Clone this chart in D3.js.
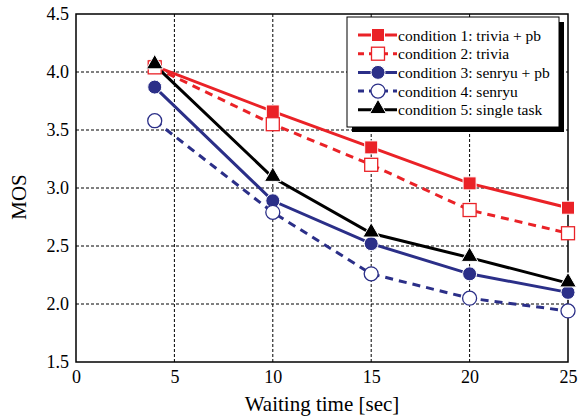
<!DOCTYPE html>
<html>
<head>
<meta charset="utf-8">
<script src="https://d3js.org/d3.v7.min.js"></script>
<style>
  body { margin: 0; background: #fff; }
  text { font-family: "Liberation Serif", "Times New Roman", serif; }
</style>
</head>
<body>
<svg width="584" height="420"></svg>
<script>
// data
var waitTimes = [4, 10, 15, 20, 25];
var cond1 = [4.05, 3.66, 3.35, 3.04, 2.83];
var cond2 = [4.04, 3.55, 3.20, 2.81, 2.61];
var cond3 = [3.87, 2.89, 2.52, 2.26, 2.10];
var cond4 = [3.58, 2.79, 2.26, 2.05, 1.94];
var cond5 = [4.06, 3.09, 2.61, 2.40, 2.18];
var labels = ["condition 1: trivia + pb", "condition 2: trivia", "condition 3: senryu + pb",
  "condition 4: senryu", "condition 5: single task"];
var xTicks = [0, 5, 10, 15, 20, 25];
var yTicks = [1.5, 2.0, 2.5, 3.0, 3.5, 4.0, 4.5];

var red = "#ea2227", blue = "#2b2f88";

var series = [
  { name: labels[0], values: cond1, color: red, dash: null, shape: "square", filled: true },
  { name: labels[1], values: cond2, color: red, dash: "8,6", shape: "square", filled: false },
  { name: labels[2], values: cond3, color: blue, dash: null, shape: "circle", filled: true },
  { name: labels[3], values: cond4, color: blue, dash: "8,6", shape: "circle", filled: false },
  { name: labels[4], values: cond5, color: "#000", dash: null, shape: "triangle", filled: true }
];

var margin = { top: 14, right: 16, bottom: 58, left: 76 },
  width = 584 - margin.left - margin.right,
  height = 420 - margin.top - margin.bottom;

var svg = d3.select("svg")
  .append("g")
  .attr("transform", "translate(" + margin.left + "," + margin.top + ")");

var x = d3.scaleLinear().domain([0, 25]).range([0, width]);
var y = d3.scaleLinear().domain([1.5, 4.5]).range([height, 0]);

// grid
svg.selectAll(".vgrid").data(xTicks.slice(1, -1)).enter()
  .append("line")
  .attr("x1", d => x(d)).attr("x2", d => x(d))
  .attr("y1", 0).attr("y2", height)
  .attr("stroke", "#000").attr("stroke-width", 1)
  .attr("stroke-dasharray", "3,2");
svg.selectAll(".hgrid").data(yTicks.slice(1, -1)).enter()
  .append("line")
  .attr("x1", 0).attr("x2", width)
  .attr("y1", d => y(d)).attr("y2", d => y(d))
  .attr("stroke", "#000").attr("stroke-width", 1)
  .attr("stroke-dasharray", "3,2");

// axes
svg.append("g")
  .attr("transform", "translate(0," + height + ")")
  .call(d3.axisBottom(x).tickValues(xTicks).tickSize(0).tickPadding(8).tickFormat(d3.format("d")))
  .call(g => g.select(".domain").remove())
  .selectAll("text").attr("font-size", 18).attr("fill", "#000")
  .style("font-family", "Liberation Serif");

svg.append("g")
  .call(d3.axisLeft(y).tickValues(yTicks).tickSize(0).tickPadding(7).tickFormat(d3.format(".1f")))
  .call(g => g.select(".domain").remove())
  .selectAll("text").attr("font-size", 18).attr("fill", "#000")
  .style("font-family", "Liberation Serif");

// frame
svg.append("rect")
  .attr("width", width).attr("height", height)
  .attr("fill", "none").attr("stroke", "#000").attr("stroke-width", 1.5);

// titles
svg.append("text")
  .attr("x", width / 2).attr("y", height + 49)
  .attr("text-anchor", "middle").attr("font-size", 21)
  .text("Waiting time [sec]");
svg.append("text")
  .attr("transform", "translate(-50," + (height / 2 + 9) + ") rotate(-90)")
  .attr("text-anchor", "middle").attr("font-size", 21)
  .text("MOS");

var line = d3.line().x((d, i) => x(waitTimes[i])).y(d => y(d));

function drawMarker(g, s, cx, cy) {
  var fill = s.filled ? s.color : "#fff";
  if (s.shape == "square") {
    g.append("rect")
      .attr("x", cx - 6.5).attr("y", cy - 6.5).attr("width", 13).attr("height", 13)
      .attr("fill", fill).attr("stroke", s.filled ? "#fff" : s.color)
      .attr("stroke-width", s.filled ? 1 : 1.3);
  } else if (s.shape == "circle") {
    g.append("circle")
      .attr("cx", cx).attr("cy", cy).attr("r", 7)
      .attr("fill", fill).attr("stroke", s.filled ? "#fff" : s.color)
      .attr("stroke-width", s.filled ? 1 : 1.3);
  } else {
    g.append("path")
      .attr("d", d3.symbol().type(d3.symbolTriangle).size(120)())
      .attr("transform", "translate(" + cx + "," + (cy - 1) + ")")
      .attr("fill", fill).attr("stroke", "#fff").attr("stroke-width", 1);
  }
}

// lines then markers
series.forEach(function (s) {
  svg.append("path")
    .datum(s.values)
    .attr("d", line)
    .attr("fill", "none")
    .attr("stroke", s.color)
    .attr("stroke-width", 3)
    .attr("stroke-dasharray", s.dash);
});
series.forEach(function (s) {
  var g = svg.append("g");
  s.values.forEach(function (v, i) { drawMarker(g, s, x(waitTimes[i]), y(v)); });
});

// legend
var lg = svg.append("g").attr("transform", "translate(" + (347 - margin.left) + "," + (17 - margin.top) + ")");
lg.append("rect").attr("x", 5).attr("y", 5).attr("width", 212).attr("height", 110).attr("fill", "#000");
lg.append("rect").attr("x", 0).attr("y", 0).attr("width", 212).attr("height", 110)
  .attr("fill", "#fff").attr("stroke", "#000").attr("stroke-width", 1);

series.forEach(function (s, i) {
  var row = lg.append("g").attr("transform", "translate(0," + (18 + i * 18.7) + ")");
  row.append("line")
    .attr("x1", 11).attr("x2", 50).attr("y1", 0).attr("y2", 0)
    .attr("stroke", s.color).attr("stroke-width", 3)
    .attr("stroke-dasharray", s.dash ? "7,5" : null)
    .attr("stroke-dashoffset", s.dash ? 1 : null);
  drawMarker(row, s, 31, 0);
  row.append("text")
    .attr("x", 51).attr("y", 5.5)
    .attr("font-size", 15.5)
    .text(s.name);
});
</script>
</body>
</html>
